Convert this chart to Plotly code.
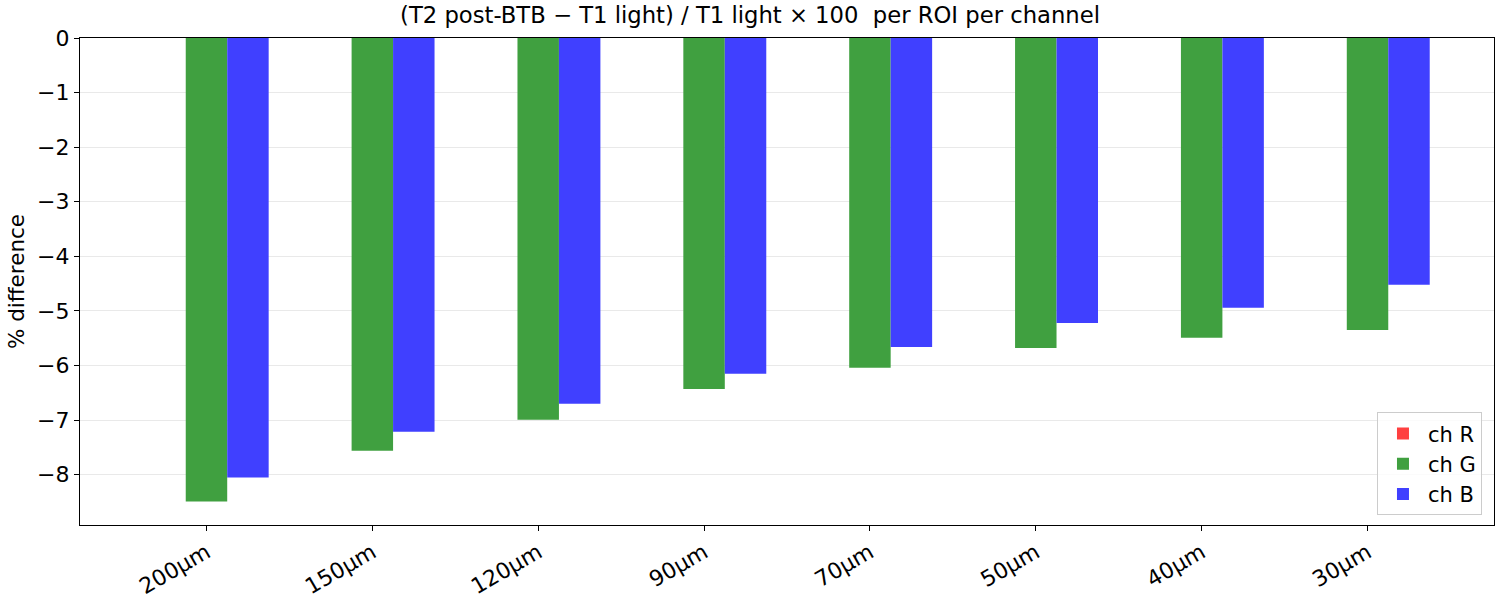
import plotly.graph_objects as go

categories = ["200µm", "150µm", "120µm", "90µm", "70µm", "50µm", "40µm", "30µm"]
ch_r = [0, 0, 0, 0, 0, 0, 0, 0]
ch_g = [-8.49, -7.56, -6.99, -6.43, -6.04, -5.68, -5.49, -5.35]
ch_b = [-8.05, -7.21, -6.70, -6.15, -5.66, -5.22, -4.94, -4.52]

series = [("ch R", ch_r, "rgb(255,64,64)"),
          ("ch G", ch_g, "rgb(64,160,64)"),
          ("ch B", ch_b, "rgb(64,64,255)")]

fig = go.Figure()
for name, vals, col in series:
    fig.add_trace(go.Bar(x=categories, y=vals, name=name,
                         marker=dict(color=col, line=dict(width=0))))

font = "DejaVu Sans"
tick_size = 22
fig.update_layout(
    width=1500, height=600,
    margin=dict(l=80, r=6, t=38, b=75, autoexpand=False),
    paper_bgcolor="white", plot_bgcolor="white",
    barmode="group", bargap=0.25, bargroupgap=0,
    font=dict(family=font, size=tick_size, color="black"),
    title=dict(text="(T2 post-BTB − T1 light) / T1 light × 100  per ROI per channel",
               x=0.5, xanchor="center", y=0.975, yanchor="middle",
               font=dict(size=22.7)),
    legend=dict(x=0.9915, y=0.02, xanchor="right", yanchor="bottom",
                bordercolor="#cccccc", borderwidth=1, bgcolor="rgba(255,255,255,0.8)",
                font=dict(size=21), itemwidth=40, traceorder="normal"),
    showlegend=True,
)
fig.update_xaxes(
    range=[-0.7625, 7.7625], showline=True, linecolor="black", linewidth=1.3,
    mirror=True, ticks="outside", ticklen=5, tickcolor="black", tickwidth=1.3,
    tickangle=-30, showgrid=False, tickfont=dict(size=tick_size), automargin=False,
)
fig.update_yaxes(
    range=[-8.92, 0], showline=True, linecolor="black", linewidth=1.3,
    mirror=True, ticks="outside", ticklen=5, tickcolor="black", tickwidth=1.3,
    tickvals=[0, -1, -2, -3, -4, -5, -6, -7, -8],
    showgrid=True, gridcolor="rgba(200,200,200,0.4)", gridwidth=1.3,
    zeroline=False, layer="above traces", automargin=False,
    title=dict(text="% difference", font=dict(size=21.5), standoff=6),
    tickfont=dict(size=tick_size),
)
fig.write_html("out.html", config={"displayModeBar": False},
               post_script="document.body.style.margin='0';document.body.style.overflow='hidden';")
